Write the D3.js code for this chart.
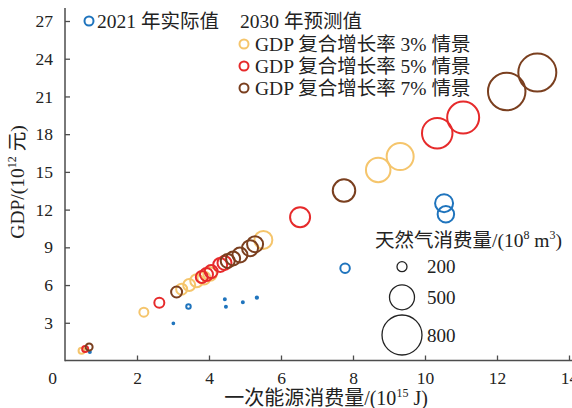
<!DOCTYPE html>
<html>
<head>
<meta charset="utf-8">
<script src="https://cdn.jsdelivr.net/npm/d3@7"></script>
<style>
  body { margin: 0; background: #fff; }
  text { font-family: "Liberation Serif", "Noto Sans CJK SC", serif; fill: #222; }
</style>
</head>
<body>
<div id="chart"></div>
<script>
// 2021 actual values: [energy 10^15 J, GDP 10^12 yuan, gas 10^8 m3]
var actual2021 = [
  [0.69, 0.68, 40], [3.01, 2.96, 35], [3.43, 4.30, 90], [4.44, 4.87, 40],
  [4.47, 4.28, 40], [4.94, 4.63, 40], [5.33, 5.00, 45], [7.78, 7.34, 190],
  [10.53, 12.51, 360], [10.58, 11.63, 330]
];
// 2030 scenarios
var growth3 = [
  [0.46, 0.78, 120], [2.19, 3.84, 180], [3.24, 5.67, 220], [3.45, 6.01, 240],
  [3.66, 6.35, 260], [3.86, 6.56, 260], [4.03, 6.88, 270], [5.51, 9.59, 360],
  [8.70, 15.16, 490], [9.31, 16.22, 540]
];
var growth5 = [
  [0.56, 0.92, 120], [2.62, 4.60, 200], [3.80, 6.64, 240], [3.93, 6.84, 260],
  [4.06, 7.07, 260], [4.31, 7.60, 280], [4.43, 7.76, 280], [6.53, 11.40, 400],
  [10.34, 18.08, 610], [11.06, 19.32, 640]
];
var growth7 = [
  [0.67, 1.07, 140], [3.10, 5.45, 220], [4.52, 7.92, 280], [4.67, 8.12, 280],
  [4.86, 8.39, 300], [5.14, 8.93, 320], [5.28, 9.25, 320], [7.75, 13.51, 450],
  [12.27, 21.39, 750], [13.12, 22.90, 760]
];

var xTicks = [2, 4, 6, 8, 10, 12, 14];
var yTicks = [3, 6, 9, 12, 15, 18, 21, 24, 27];
var sizeLegendValues = [200, 500, 800];

var scenarioNames = ["GDP 复合增长率 3% 情景", "GDP 复合增长率 5% 情景", "GDP 复合增长率 7% 情景"];
var colors = { actual: "#1f74bd", g3: "#f5c56c", g5: "#e62a2b", g7: "#7a3f1f" };

var width = 572, height = 408;

var svg = d3.select("#chart")
  .append("svg")
  .attr("width", width)
  .attr("height", height);

var x = d3.scaleLinear().domain([0, 14]).range([65, 569]);
var y = d3.scaleLinear().domain([0, 27]).range([360.5, 21]);
var r = d3.scaleLinear().domain([0, 800]).range([0, 20]);

var axisColor = "#4d4d4d";

// x axis
var xAxis = svg.append("g")
  .attr("transform", "translate(0," + y(0) + ")")
  .call(d3.axisBottom(x).tickValues(xTicks).tickSizeInner(-5).tickSizeOuter(0).tickPadding(11));
xAxis.select(".domain").remove();
xAxis.selectAll("line").attr("stroke", axisColor).attr("stroke-width", 1.3);
xAxis.selectAll("text").style("font-size", "17.5px").attr("fill", "#222");

// y axis
var yAxis = svg.append("g")
  .attr("transform", "translate(" + x(0) + ",0)")
  .call(d3.axisLeft(y).tickValues(yTicks).tickSizeInner(-5).tickSizeOuter(0).tickPadding(12));
yAxis.select(".domain").remove();
yAxis.selectAll("line").attr("stroke", axisColor).attr("stroke-width", 1.3);
yAxis.selectAll("text").style("font-size", "17.5px").attr("fill", "#222");

svg.append("line")
  .attr("x1", x(0)).attr("x2", x(0)).attr("y1", 8).attr("y2", y(0) + 0.7)
  .attr("stroke", axisColor).attr("stroke-width", 1.5);
svg.append("line")
  .attr("x1", x(0)).attr("x2", width).attr("y1", y(0)).attr("y2", y(0))
  .attr("stroke", axisColor).attr("stroke-width", 1.5);

// shared origin label
svg.append("text")
  .attr("x", 52.7).attr("y", 384)
  .attr("text-anchor", "middle")
  .style("font-size", "17.5px")
  .text("0");

// axis titles
var xTitle = svg.append("text")
  .attr("x", 326).attr("y", 405)
  .attr("text-anchor", "middle")
  .style("font-size", "20px")
  .text("一次能源消费量/(10");
xTitle.append("tspan").attr("dy", -8).style("font-size", "12px").text("15");
xTitle.append("tspan").attr("dy", 8).text(" J)");

var yTitle = svg.append("text")
  .attr("transform", "translate(24,182) rotate(-90)")
  .attr("text-anchor", "middle")
  .style("font-size", "19.5px")
  .text("GDP/(10");
yTitle.append("tspan").attr("dy", -8).style("font-size", "12px").text("12");
yTitle.append("tspan").attr("dy", 8).text(" 元)");

// points
function drawSeries(data, color, width) {
  svg.append("g")
    .selectAll("circle")
    .data(data)
    .join("circle")
    .attr("cx", d => x(d[0]))
    .attr("cy", d => y(d[1]))
    .attr("r", d => r(d[2]))
    .attr("fill", "none")
    .attr("stroke", color)
    .attr("stroke-width", width);
}
drawSeries(actual2021, colors.actual, 2);
drawSeries(growth3, colors.g3, 2);
drawSeries(growth5, colors.g5, 2);
drawSeries(growth7, colors.g7, 2);

// top legend
svg.append("circle")
  .attr("cx", 89).attr("cy", 21).attr("r", 4.5)
  .attr("fill", "none").attr("stroke", colors.actual).attr("stroke-width", 2);
svg.append("text")
  .attr("x", 97).attr("y", 27.5)
  .style("font-size", "19.5px")
  .text("2021 年实际值");
svg.append("text")
  .attr("x", 240).attr("y", 27.5)
  .style("font-size", "19.5px")
  .text("2030 年预测值");

var scenarioColors = [colors.g3, colors.g5, colors.g7];
scenarioNames.forEach(function(name, i) {
  var cy = 44 + i * 22;
  svg.append("circle")
    .attr("cx", 244).attr("cy", cy).attr("r", 4.5)
    .attr("fill", "none").attr("stroke", scenarioColors[i]).attr("stroke-width", 2);
  svg.append("text")
    .attr("x", 255).attr("y", cy + 6.5)
    .style("font-size", "19.5px")
    .text(name);
});

// size legend
var sTitle = svg.append("text")
  .attr("x", 375).attr("y", 246.5)
  .style("font-size", "19.5px")
  .text("天然气消费量/(10");
sTitle.append("tspan").attr("dy", -8).style("font-size", "12px").text("8");
sTitle.append("tspan").attr("dy", 8).text(" m");
sTitle.append("tspan").attr("dy", -8).style("font-size", "12px").text("3");
sTitle.append("tspan").attr("dy", 8).text(")");

var sizeY = [266.7, 297.3, 335];
sizeLegendValues.forEach(function(v, i) {
  svg.append("circle")
    .attr("cx", 402).attr("cy", sizeY[i]).attr("r", r(v))
    .attr("fill", "none").attr("stroke", "#222").attr("stroke-width", 1.3);
  svg.append("text")
    .attr("x", 427).attr("y", sizeY[i] + 6.5)
    .style("font-size", "19px")
    .text(v);
});
</script>
</body>
</html>
